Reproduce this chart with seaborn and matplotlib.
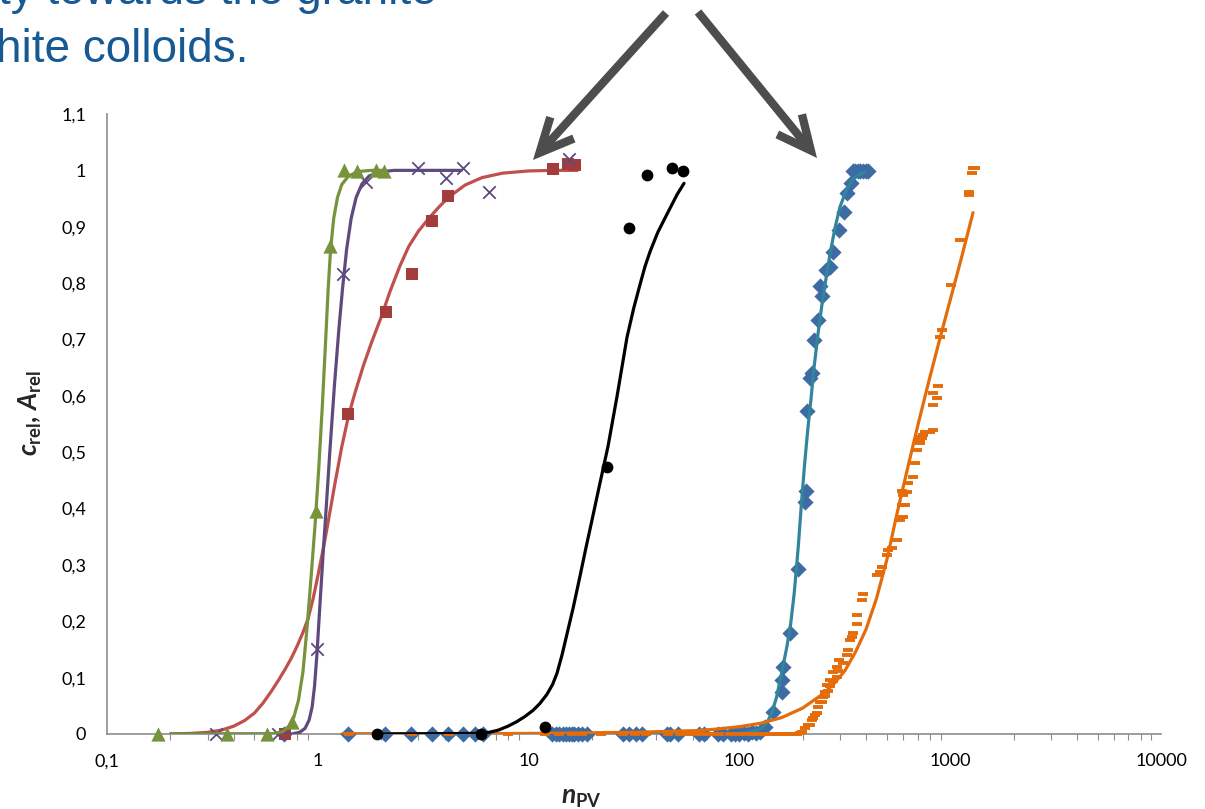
import numpy as np
import pandas as pd
import matplotlib
matplotlib.use("Agg")
import matplotlib.pyplot as plt
import seaborn as sns

# ---------------- data ----------------
x_tick_labels = ["0,1", "1", "10", "100", "1000", "10000"]
x_tick_values = [0.1, 1, 10, 100, 1000, 10000]
y_tick_values = [0, 0.1, 0.2, 0.3, 0.4, 0.5, 0.6, 0.7, 0.8, 0.9, 1.0, 1.1]
y_tick_labels = ["0", "0,1", "0,2", "0,3", "0,4", "0,5", "0,6", "0,7", "0,8", "0,9", "1", "1,1"]

# green triangles + fit
green_x = [0.175, 0.371, 0.574, 0.754, 0.98, 1.143, 1.33, 1.535, 1.89, 2.06]
green_y = [0.0, 0.0, 0.0, 0.021, 0.395, 0.865, 1.0, 0.998, 1.0, 0.998]
green_fit_x = [0.2, 0.6, 0.68, 0.73, 0.77, 0.81, 0.85, 0.89, 0.93, 0.97, 1.01, 1.05, 1.09, 1.12, 1.15, 1.19, 1.24, 1.3, 1.4, 1.55, 1.8, 2.06]
green_fit_y = [0.0, 0.0, 0.004, 0.014, 0.03, 0.06, 0.11, 0.19, 0.28, 0.37, 0.47, 0.58, 0.70, 0.79, 0.86, 0.915, 0.952, 0.975, 0.99, 0.998, 1.0, 1.0]

# purple crosses + fit
purple_x = [0.33, 0.65, 0.99, 1.318, 1.69, 2.99, 4.06, 4.88, 6.49, 15.6]
purple_y = [0.0, 0.0, 0.151, 0.817, 0.98, 1.005, 0.986, 1.005, 0.961, 1.021]
purple_fit_x = [0.2, 0.75, 0.82, 0.87, 0.91, 0.94, 0.965, 0.99, 1.02, 1.06, 1.1, 1.14, 1.2, 1.26, 1.31, 1.37, 1.44, 1.52, 1.62, 1.75, 1.95, 2.3, 4.8]
purple_fit_y = [0.0, 0.0, 0.003, 0.01, 0.025, 0.048, 0.085, 0.14, 0.22, 0.32, 0.41, 0.5, 0.62, 0.72, 0.79, 0.86, 0.915, 0.952, 0.976, 0.99, 0.997, 1.0, 1.0]

# red squares + fit
red_x = [0.70, 1.39, 2.107, 2.80, 3.48, 4.15, 13.06, 15.4, 16.6]
red_y = [0.0, 0.567, 0.748, 0.816, 0.911, 0.954, 1.002, 1.012, 1.009]
red_fit_x = [0.2, 0.25, 0.3, 0.35, 0.4, 0.45, 0.5, 0.55, 0.6, 0.65, 0.7, 0.75, 0.8, 0.85, 0.9, 0.95, 1.0, 1.05, 1.1, 1.2, 1.3, 1.4, 1.5, 1.65, 1.8, 2.0, 2.2, 2.45, 2.7, 3.0, 3.4, 3.8, 4.2, 5.0, 6.0, 7.5, 10, 13, 17]
red_fit_y = [0.0, 0.001, 0.003, 0.007, 0.014, 0.024, 0.037, 0.055, 0.075, 0.095, 0.115, 0.135, 0.157, 0.18, 0.205, 0.24, 0.28, 0.32, 0.36, 0.44, 0.51, 0.565, 0.605, 0.655, 0.695, 0.74, 0.785, 0.83, 0.865, 0.892, 0.917, 0.937, 0.953, 0.974, 0.987, 0.995, 0.999, 1.0, 1.0]

# black dots + fit
black_x = [1.91, 5.94, 11.97, 23.5, 29.9, 36.5, 47.9, 54.0]
black_y = [0.0, 0.0, 0.012, 0.473, 0.897, 0.991, 1.005, 0.998]
black_fit_x = [1.9, 5.9, 6.5, 7.2, 8.0, 8.8, 9.6, 10.5, 11.3, 12.2, 13.0, 13.64, 14.4, 15.2, 16.3, 17.53, 18.7, 20.0, 21.8, 23.8, 26.3, 29.3, 31.5, 33.8, 35.7, 37.7, 41.0, 45.3, 50.6, 54.6]
black_fit_y = [0.0, 0.001, 0.003, 0.007, 0.014, 0.022, 0.031, 0.042, 0.054, 0.07, 0.088, 0.108, 0.14, 0.177, 0.225, 0.28, 0.33, 0.38, 0.445, 0.51, 0.6, 0.704, 0.755, 0.798, 0.83, 0.856, 0.89, 0.922, 0.957, 0.977]

# blue diamonds + teal fit
blue_x = [0.69, 1.39, 2.08, 2.78, 3.47, 4.14, 4.87, 5.55, 6.07,
          12.9, 13.5, 14.0, 14.5, 15.0, 15.5, 16.0, 16.5, 17.1, 18.0, 18.9,
          27.9, 30.1, 32.4, 34.6, 45.5, 47.1, 51.3, 64, 68, 79, 84, 91, 95, 100,
          105, 110, 115, 120, 125,
          132, 144, 159, 159, 161, 174, 190, 205, 206, 209, 216, 221, 226, 236,
          241, 246, 258, 269, 278, 297, 313, 324, 338, 346, 355, 365, 375, 386, 397, 408]
blue_y = [0.0, 0.0, 0.0, 0.0, 0.0, 0.0, 0.0, 0.0, 0.0,
          0.0, 0.0, 0.0, 0.0, 0.0, 0.0, 0.0, 0.0, 0.0, 0.0, 0.0,
          0.0, 0.0, 0.0, 0.0, 0.0, 0.0, 0.0, 0.0, 0.0, 0.0, 0.0, 0.0, 0.0, 0.0,
          0.002, 0.0, 0.003, 0.002, 0.004,
          0.012, 0.039, 0.074, 0.096, 0.119, 0.179, 0.292, 0.411, 0.431, 0.573, 0.631, 0.640, 0.699, 0.734,
          0.794, 0.777, 0.823, 0.828, 0.856, 0.894, 0.927, 0.959, 0.977, 0.998, 0.998, 0.998, 0.998, 0.998, 0.998, 0.998]
teal_fit_x = [1.35, 90, 100, 110, 120, 128, 135, 142, 150, 160, 168, 175, 182, 190, 197, 204, 211, 218, 226, 236, 246, 258, 270, 285, 300, 320, 346, 370, 394]
teal_fit_y = [0.0, 0.0, 0.001, 0.003, 0.006, 0.011, 0.02, 0.036, 0.065, 0.115, 0.155, 0.195, 0.25, 0.33, 0.41, 0.48, 0.54, 0.59, 0.65, 0.71, 0.76, 0.81, 0.855, 0.9, 0.935, 0.963, 0.985, 0.993, 0.996]

# orange dashes + fit
orange_x = [1.4, 1.9, 2.8, 4.2, 5.9, 8, 12, 14, 16, 18, 22, 28, 32, 36, 46, 52, 58, 64, 72, 80, 90,
            100, 108, 116, 124, 132, 140, 150, 160, 170, 180, 188,
            194, 198, 205, 211, 216, 221, 223, 228, 233, 236, 241, 247, 249, 255, 255, 260, 263,
            269, 269, 278, 278, 290, 290, 294, 297, 310, 324, 327, 335, 342, 346, 361, 361, 382,
            386, 450, 465, 475, 502, 507, 530, 559, 578, 597, 591, 610, 597, 624, 591, 631, 666,
            681, 696, 719, 735, 743, 759, 802, 828, 719, 719, 828, 865, 828, 875, 895, 914, 1009,
            1113, 1228, 1228, 1269, 1283, 1311]
orange_y = [0.0] * 32 + [
            0.002, 0.004, 0.011, 0.016, 0.016, 0.025, 0.028, 0.034, 0.037, 0.048, 0.057, 0.057, 0.066, 0.067, 0.074, 0.087, 0.076,
            0.085, 0.096, 0.094, 0.11, 0.101, 0.119, 0.112, 0.131, 0.126, 0.14, 0.149, 0.167, 0.172, 0.179, 0.195, 0.211, 0.238,
            0.248, 0.282, 0.287, 0.296, 0.317, 0.326, 0.33, 0.344, 0.379, 0.385, 0.406, 0.406, 0.424, 0.429, 0.431, 0.445, 0.456,
            0.48, 0.504, 0.516, 0.525, 0.53, 0.535, 0.535, 0.539, 0.527, 0.521, 0.583, 0.596, 0.605, 0.617, 0.704, 0.716, 0.796,
            0.876, 0.961, 0.956, 0.995, 1.005, 1.005]
orange_fit_x = [1.3, 10, 31.6, 63.1, 79.4, 100, 125.9, 158.5, 199.5, 251.2, 281.8, 316.2, 354.8, 398.1, 446.7, 501.2, 562.3, 631, 707.9, 794.3, 891.3, 1000, 1122, 1283]
orange_fit_y = [0.0, 0.001, 0.003, 0.006, 0.009, 0.013, 0.019, 0.029, 0.046, 0.072, 0.09, 0.112, 0.145, 0.185, 0.24, 0.31, 0.395, 0.475, 0.553, 0.628, 0.70, 0.77, 0.84, 0.925]

# ---------------- style ----------------
sns.set_theme(style="white")
plt.rcParams["font.family"] = ["Lato", "DejaVu Sans"]
plt.rcParams["mathtext.fontset"] = "custom"
plt.rcParams["mathtext.it"] = "Lato:italic:bold"
plt.rcParams["mathtext.rm"] = "Lato:bold"
plt.rcParams["mathtext.bf"] = "Lato:bold"

W, H = 1205, 809
fig = plt.figure(figsize=(W / 100, H / 100), dpi=100)
ax = fig.add_axes([107 / W, 1 - 734 / H, (1161 - 107) / W, (734 - 114) / H])
ax.set_xscale("log")

C_GREEN = "#77933C"
C_PURPLE = "#5F4A7E"
C_RED_LINE = "#C0504D"
C_RED_MK = "#A33D3B"
C_TEAL = "#31859C"
C_BLUE = "#3D6BA3"
C_ORANGE = "#E46C0A"

LW = 2.3

def curve(xs, ys, color, lw=LW, z=3):
    sns.lineplot(x=xs, y=ys, ax=ax, color=color, linewidth=lw, sort=False,
                 estimator=None, zorder=z, legend=False)

def pts(xs, ys, color, marker, s, lw=0, z=4, **kw):
    sns.scatterplot(x=xs, y=ys, ax=ax, color=color, marker=marker, s=s,
                    linewidth=lw, zorder=z, legend=False, clip_on=False, **kw)

# blue / teal
pts(blue_x, blue_y, C_BLUE, "D", 68, z=3)
curve(teal_fit_x, teal_fit_y, C_TEAL, z=4)
# orange
pts(orange_x, orange_y, C_ORANGE, "_", 50, lw=2.8, z=4)
curve(orange_fit_x, orange_fit_y, C_ORANGE, z=5)
# black
curve(black_fit_x, black_fit_y, "black", z=5)
pts(black_x, black_y, "black", "o", 72, z=6)
# red
curve(red_fit_x, red_fit_y, C_RED_LINE, z=6)
pts(red_x, red_y, C_RED_MK, "s", 85, z=7)
# purple
curve(purple_fit_x, purple_fit_y, C_PURPLE, z=7)
pts(purple_x, purple_y, C_PURPLE, "x", 80, lw=1.3, z=8)
# green
curve(green_fit_x, green_fit_y, C_GREEN, z=8)
pts(green_x, green_y, C_GREEN, "^", 105, z=9)

# ---------------- axes ----------------
ax.set_xlim(0.1, 10000)
ax.set_ylim(0, 1.1)
ax.set_xticks(x_tick_values)
ax.set_xticklabels(x_tick_labels)
ax.set_yticks(y_tick_values)
ax.set_yticklabels(y_tick_labels)
ax.xaxis.set_minor_locator(matplotlib.ticker.LogLocator(base=10, subs=np.arange(2, 10), numticks=20))
ax.xaxis.set_minor_formatter(matplotlib.ticker.NullFormatter())

for side in ["top", "right"]:
    ax.spines[side].set_visible(False)
for side in ["left", "bottom"]:
    ax.spines[side].set_color("#8C8C8C")
    ax.spines[side].set_linewidth(1.2)
    ax.spines[side].set_zorder(2)

ax.tick_params(axis="both", which="major", direction="out", color="#8C8C8C",
               length=5, width=1, labelsize=13, labelcolor="black")
ax.tick_params(axis="x", which="minor", direction="out", color="#8C8C8C",
               length=4, width=0.8, bottom=True)
ax.tick_params(axis="x", which="major", length=6, pad=8)
ax.tick_params(axis="y", which="major", pad=10)
ax.grid(False)

ax.set_xlabel(r"$n_{\mathrm{PV}}$", fontsize=19)
ax.xaxis.set_label_coords((581 - 107) / 1054, (734 - 797) / 620)
ax.set_ylabel(r"$c_{\mathrm{rel}}$, $A_{\mathrm{rel}}$", fontsize=19, fontweight="bold")
ax.yaxis.set_label_coords((30 - 107) / 1054, (734 - 413) / 620)
ax.xaxis.label.set_va("center")
ax.yaxis.label.set_va("center")

# ---------------- slide text and arrows ----------------
TITLE_C = "#175A93"
fig.text(-2 / W, 1 - 4 / H, "ty towards the granite", color=TITLE_C, fontsize=33,
         family=["Liberation Sans", "DejaVu Sans"], ha="left", va="baseline")
fig.text(-4 / W, 1 - 62 / H, "hite colloids.", color=TITLE_C, fontsize=33,
         family=["Liberation Sans", "DejaVu Sans"], ha="left", va="baseline")

for tail, tip in [((666, 13), (533, 160)), ((698, 12), (817, 158))]:
    ax.annotate("", xy=(tip[0], H - tip[1]), xycoords="figure pixels",
                xytext=(tail[0], H - tail[1]), textcoords="figure pixels",
                annotation_clip=False,
                arrowprops=dict(arrowstyle="->,head_length=1.1,head_width=0.52",
                                color="#4D4D4D", lw=6, mutation_scale=22,
                                shrinkA=0, shrinkB=0, joinstyle="miter",
                                capstyle="butt"))

fig.savefig("out.png", dpi=100)
